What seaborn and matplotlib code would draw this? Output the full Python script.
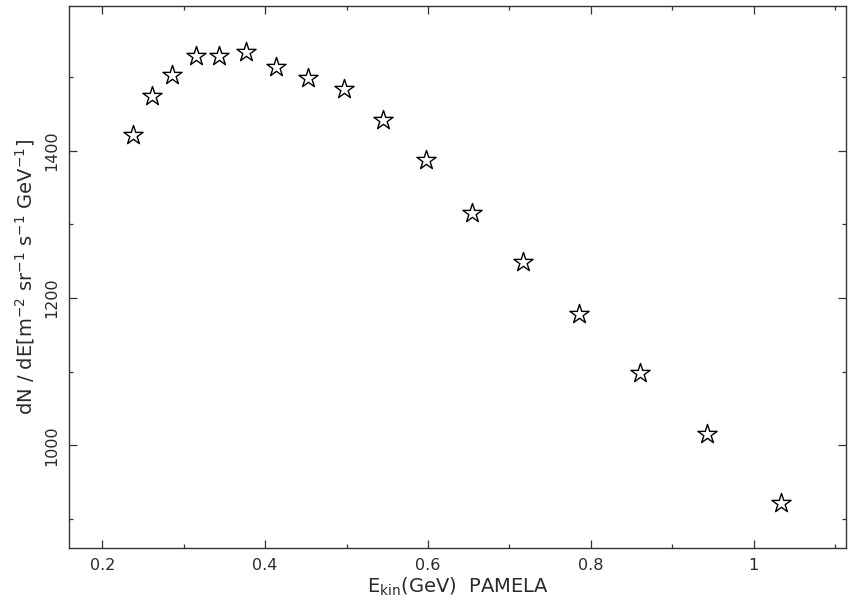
import matplotlib
matplotlib.use("Agg")
import matplotlib.pyplot as plt
import seaborn as sns
import pandas as pd
from matplotlib.ticker import MultipleLocator, FixedLocator, FixedFormatter

# PAMELA spectrum: kinetic energy (GeV) and differential flux
energy = [0.238, 0.261, 0.286, 0.315, 0.343, 0.377, 0.413, 0.453, 0.497,
          0.545, 0.597, 0.654, 0.717, 0.785, 0.861, 0.943, 1.034]
flux = [1421, 1474, 1503, 1528, 1528, 1534, 1513, 1499, 1484,
        1442, 1387, 1315, 1249, 1179, 1098, 1015, 922]

x_major = [0.2, 0.4, 0.6, 0.8, 1.0]
x_major_labels = ["0.2", "0.4", "0.6", "0.8", "1"]
y_major = [1000, 1200, 1400]
y_major_labels = ["1000", "1200", "1400"]

sns.set_theme(style="white")
plt.rcParams["font.family"] = ["DejaVu Sans"]
plt.rcParams["mathtext.fontset"] = "dejavusans"

df = pd.DataFrame({"E": energy, "flux": flux})

fig = plt.figure(figsize=(8.48, 6.04), dpi=100)
ax = fig.add_axes([69 / 848, 1 - 548 / 604, (846 - 69) / 848, (548 - 6) / 604])

sns.scatterplot(data=df, x="E", y="flux", ax=ax, marker="*", s=210,
                facecolor="white", edgecolor="black", linewidth=1.0, zorder=3)

ax.set_xlim(0.159, 1.1136)
ax.set_ylim(861, 1596)

ax.xaxis.set_major_locator(FixedLocator(x_major))
ax.xaxis.set_major_formatter(FixedFormatter(x_major_labels))
ax.xaxis.set_minor_locator(MultipleLocator(0.1))
ax.yaxis.set_major_locator(FixedLocator(y_major))
ax.yaxis.set_major_formatter(FixedFormatter(y_major_labels))
ax.yaxis.set_minor_locator(MultipleLocator(100))

text_color = "#2a2a2a"
frame_color = "#333333"
for sp in ax.spines.values():
    sp.set_color(frame_color)
    sp.set_linewidth(1.0)

ax.tick_params(which="both", direction="in", top=True, right=True,
               bottom=True, left=True, color=frame_color, width=0.9,
               labelcolor=text_color, labelsize=11.5)
ax.tick_params(which="major", length=6.0, pad=7)
ax.tick_params(which="minor", length=3.2)
for lab in ax.get_yticklabels():
    lab.set_rotation(90)
    lab.set_va("center")

ax.set_xlabel(r"E$_{\mathrm{kin}}$(GeV)  PAMELA", fontsize=14,
              color=text_color, labelpad=2)
ax.set_ylabel(r"dN / dE[m$^{-2}$ sr$^{-1}$ s$^{-1}$ GeV$^{-1}$]", fontsize=14,
              color=text_color, labelpad=5)

fig.savefig("out.png", dpi=100)
